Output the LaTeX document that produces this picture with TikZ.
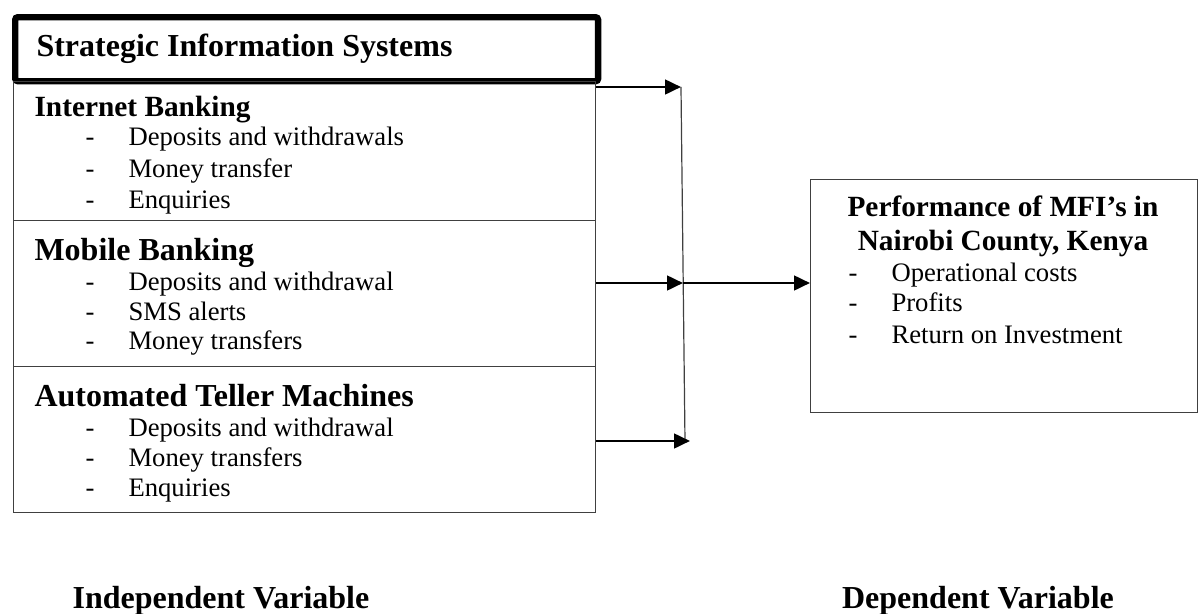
\documentclass[tikz,border=0pt]{standalone}
\usepackage{fontspec}
\setmainfont{Liberation Serif}
\usetikzlibrary{arrows.meta}
\usetikzlibrary{calc}

\tikzset{
 head/.style={font=\bfseries\fontsize{12}{14}\selectfont, anchor=base west, inner sep=0},
 item/.style={font=\fontsize{10}{12}\selectfont, anchor=base west, inner sep=0},
 sect/.style={draw=black!75, line width=0.45pt, minimum width=218.25pt, inner sep=0, anchor=north west},
 flow/.style={black, line width=1pt, -{Triangle[length=6pt,width=5.5pt]}},
 bus/.style={draw=black!75, line width=0.45pt}
}

\begin{document}
\begin{tikzpicture}[x=0.375pt, y=-0.375pt]
\useasboundingbox (0,0) rectangle (1199,614);
\node[draw, line width=2.4pt, rounded corners=1pt, minimum width=218.6pt, minimum height=24pt, anchor=north west] (sisbox) at (12,14) {};
\node[head] (sis) at (36,57) {Strategic Information Systems};
\node[sect, minimum height=52.125pt] (inet) at (13,81) {};
\node[sect, minimum height=54.75pt] (mob) at (13,220) {};
\node[sect, minimum height=54.75pt] (atm) at (13,366) {};
\node[draw=black!75, line width=0.45pt, minimum width=145.1pt, minimum height=87.4pt, anchor=north west] (perf) at (810,179) {};

\node[head, font=\bfseries\fontsize{11}{13}\selectfont] (ibh) at (34,116) {Internet Banking};
\foreach \t [count=\i] in {Deposits and withdrawals, Money transfer, Enquiries} {
 \node[item] (ibd\i) at (85,{113+32*\i}) {-};
 \node[item] (ib\i) at (128,{113+32*\i}) {\t};
}
\node[head] (mbh) at (34,260) {Mobile Banking};
\foreach \t [count=\i] in {Deposits and withdrawal, SMS alerts, Money transfers} {
 \node[item] (mbd\i) at (85,{260+30*\i}) {-};
 \node[item] (mb\i) at (128,{260+30*\i}) {\t};
}
\node[head] (atmh) at (34,406) {Automated Teller Machines};
\foreach \t [count=\i] in {Deposits and withdrawal, Money transfers, Enquiries} {
 \node[item] (atd\i) at (85,{406+30*\i}) {-};
 \node[item] (at\i) at (128,{406+30*\i}) {\t};
}

\node[font=\bfseries\fontsize{11}{12.75}\selectfont, align=center, anchor=base, inner sep=0] (perfh) at (1003,250) {Performance of MFI's in\\Nairobi County, Kenya};
\foreach \t [count=\i] in {Operational costs, Profits, Return on Investment} {
 \node[item] (pfd\i) at (848,{250+31*\i}) {-};
 \node[item] (pf\i) at (891,{250+31*\i}) {\t};
}

\coordinate (b1) at (681,87);
\coordinate (b2) at (683,283);
\coordinate (b3) at (685,441);
\draw[bus] (b1) -- (b3);
\draw[flow] (inet.east |- b1) -- (b1);
\draw[flow] (mob.east |- b2) -- (b2);
\draw[flow] (atm.east |- b3) -- ($(b3)+(5,0)$);
\draw[flow] (b2) -- (perf.west |- b2);

\node[head, anchor=base] (indep) at (221,608) {Independent Variable};
\node[head, anchor=base] (dep) at (978,608) {Dependent Variable};
\end{tikzpicture}
\end{document}
